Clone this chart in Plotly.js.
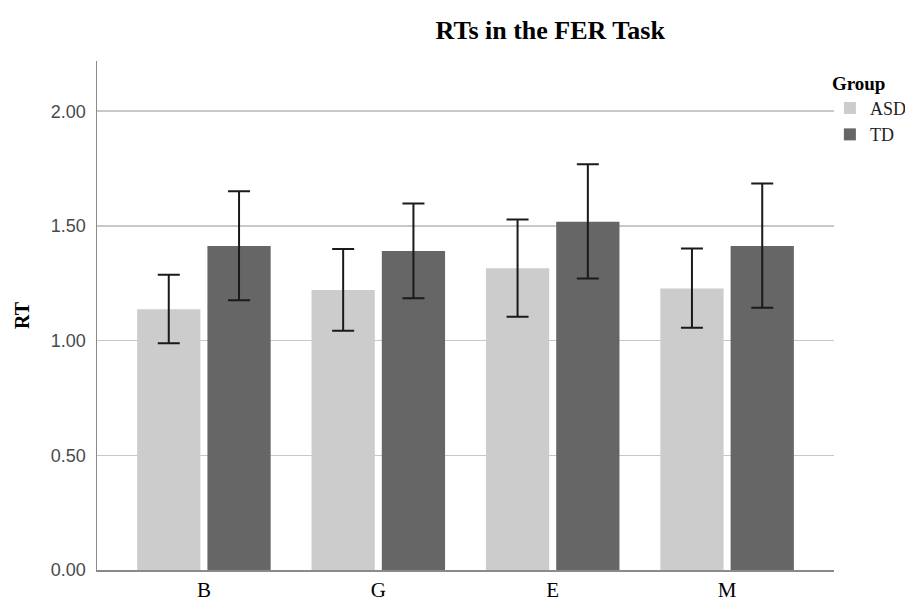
<!DOCTYPE html>
<html>
<head>
<meta charset="utf-8">
<script src="https://cdn.plot.ly/plotly-3.0.1.min.js"></script>
<style>html,body{margin:0;padding:0;background:#fff;}#chart{width:905px;height:601px;}</style>
</head>
<body>
<div id="chart"></div>
<script>
var categories = ["B", "G", "E", "M"];
var groups = ["ASD", "TD"];
var asdMean = [1.137, 1.221, 1.315, 1.227];
var asdUpper = [1.287, 1.399, 1.528, 1.402];
var asdLower = [0.989, 1.043, 1.104, 1.056];
var tdMean = [1.412, 1.391, 1.518, 1.412];
var tdUpper = [1.651, 1.598, 1.769, 1.685];
var tdLower = [1.176, 1.185, 1.271, 1.143];
var yTicks = [0, 0.5, 1.0, 1.5, 2.0];
var yTickText = ["0.00", "0.50", "1.00", "1.50", "2.00"];

function plus(m, u) { return m.map(function (v, i) { return u[i] - v; }); }
function minus(m, l) { return m.map(function (v, i) { return v - l[i]; }); }

var errStyle = { type: "data", symmetric: false, color: "#1a1a1a", thickness: 2, width: 11 };

var traces = [
  {
    type: "bar", name: groups[0], x: categories, y: asdMean,
    marker: { color: "#cccccc" },
    error_y: Object.assign({ array: plus(asdMean, asdUpper), arrayminus: minus(asdMean, asdLower) }, errStyle)
  },
  {
    type: "bar", name: groups[1], x: categories, y: tdMean,
    marker: { color: "#666666" },
    error_y: Object.assign({ array: plus(tdMean, tdUpper), arrayminus: minus(tdMean, tdLower) }, errStyle)
  }
];

var layout = {
  width: 905, height: 601,
  margin: { l: 97, r: 71, t: 61, b: 31, pad: 0, autoexpand: false },
  paper_bgcolor: "#ffffff", plot_bgcolor: "#ffffff",
  barmode: "group", bargap: 0.194, bargroupgap: 0.1,
  title: {
    text: "<b>RTs in the FER Task</b>",
    font: { family: "Liberation Serif, Times New Roman, serif", size: 26, color: "#000" },
    x: 0.608, xanchor: "center", xref: "container",
    y: 0.95, yanchor: "middle", yref: "container"
  },
  xaxis: {
    type: "category", range: [-0.613, 3.613],
    showline: true, linecolor: "#8a8a8a", linewidth: 1.5,
    showgrid: false, ticks: "", zeroline: false,
    tickfont: { family: "Liberation Serif, Times New Roman, serif", size: 21, color: "#000" }
  },
  yaxis: {
    range: [0, 2.219],
    tickvals: yTicks, ticktext: yTickText,
    showline: true, linecolor: "#8a8a8a", linewidth: 1.5,
    showgrid: true, gridcolor: "#c8c8c8", gridwidth: 1.5,
    zeroline: false, ticks: "",
    ticklabelstandoff: 6,
    tickfont: { family: "Liberation Sans, Arial, sans-serif", size: 18, color: "#4a4a4a" },
    title: {
      text: "<b>RT</b>", standoff: 16,
      font: { family: "Liberation Serif, Times New Roman, serif", size: 20, color: "#000" }
    }
  },
  showlegend: true,
  legend: {
    x: 0.917, xref: "container", xanchor: "left", y: 0.992, yanchor: "top",
    bgcolor: "rgba(0,0,0,0)",
    title: { text: "<b>Group</b>", side: "top", font: { family: "Liberation Serif, Times New Roman, serif", size: 19, color: "#000" } },
    font: { family: "Liberation Serif, Times New Roman, serif", size: 18, color: "#222" },
    itemwidth: 30, traceorder: "normal"
  }
};

Plotly.newPlot("chart", traces, layout, { displayModeBar: false, staticPlot: true });
</script>
</body>
</html>
